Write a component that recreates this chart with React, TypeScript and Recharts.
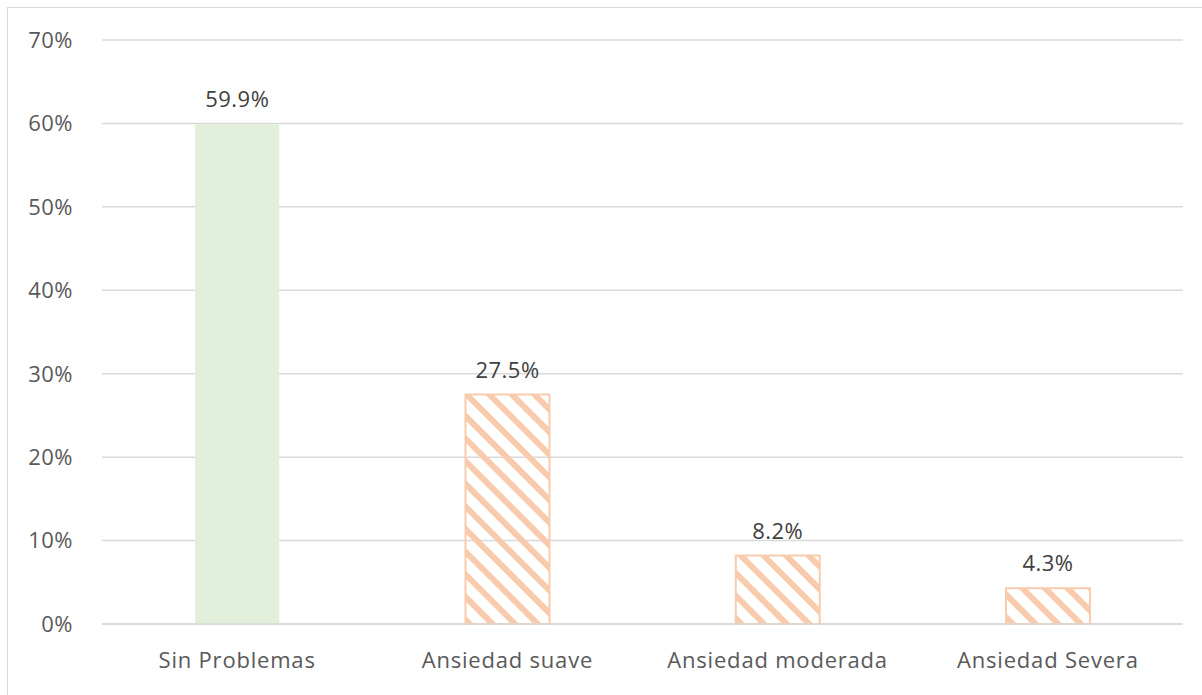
import { BarChart, Bar, XAxis, YAxis, CartesianGrid, Cell, LabelList } from 'recharts';

const categories = ['Sin Problemas', 'Ansiedad suave', 'Ansiedad moderada', 'Ansiedad Severa'];
const percentages = [59.9, 27.5, 8.2, 4.3];
const yTicks = [0, 10, 20, 30, 40, 50, 60, 70];

const chartData = categories.map((name, i) => ({ name, value: percentages[i] }));

const font = '"Open Sans", "Noto Sans", sans-serif';

export default function App() {
  return (
    <div style={{ position: 'absolute', left: 0, top: 0, width: 1202, height: 695, background: '#fff', overflow: 'hidden' }}>
      {/* outer chart frame */}
      <div
        style={{
          position: 'absolute',
          left: 7,
          top: 7,
          width: 1210,
          height: 700,
          border: '1.5px solid #d9d9d9',
        }}
      />
      <div style={{ position: 'absolute', left: 0, top: 0 }}>
        <BarChart
          width={1202}
          height={695}
          data={chartData}
          margin={{ top: 40, right: 19, bottom: 0, left: 0 }}
          barCategoryGap="34.5%"
        >
          <defs>
            <pattern id="hatch" width="16" height="16" patternUnits="userSpaceOnUse" patternTransform="rotate(-45)">
              <rect x="0" y="0" width="6" height="16" fill="#F8CBAD" />
            </pattern>
          </defs>
          <CartesianGrid vertical={false} stroke="#d9d9d9" strokeWidth={1.5} />
          <XAxis
            dataKey="name"
            height={71}
            axisLine={{ stroke: '#d9d9d9', strokeWidth: 1.5 }}
            tickLine={false}
            tickSize={0}
            tickMargin={28}
            tick={{ fill: '#595959', fontSize: 22, fontFamily: font, letterSpacing: 0.8 }}
          />
          <YAxis
            domain={[0, 70]}
            ticks={yTicks}
            width={102}
            axisLine={false}
            tickLine={false}
            tickSize={0}
            tickMargin={29}
            tickFormatter={(v: number) => `${v}%`}
            tick={{ fill: '#595959', fontSize: 22, fontFamily: font, letterSpacing: 0.5 }}
          />
          <Bar dataKey="value" isAnimationActive={false}>
            {chartData.map((d, i) => (
              <Cell
                key={d.name}
                fill={i === 0 ? '#E2EFDA' : 'url(#hatch)'}
                stroke={i === 0 ? 'none' : '#F8CBAD'}
                strokeWidth={i === 0 ? 0 : 2}
              />
            ))}
            <LabelList
              dataKey="value"
              position="top"
              offset={17}
              formatter={(v: number) => `${v.toFixed(1)}%`}
              style={{ fill: '#404040', fontSize: 22, fontFamily: font, letterSpacing: 0.5 }}
            />
          </Bar>
        </BarChart>
      </div>
    </div>
  );
}
